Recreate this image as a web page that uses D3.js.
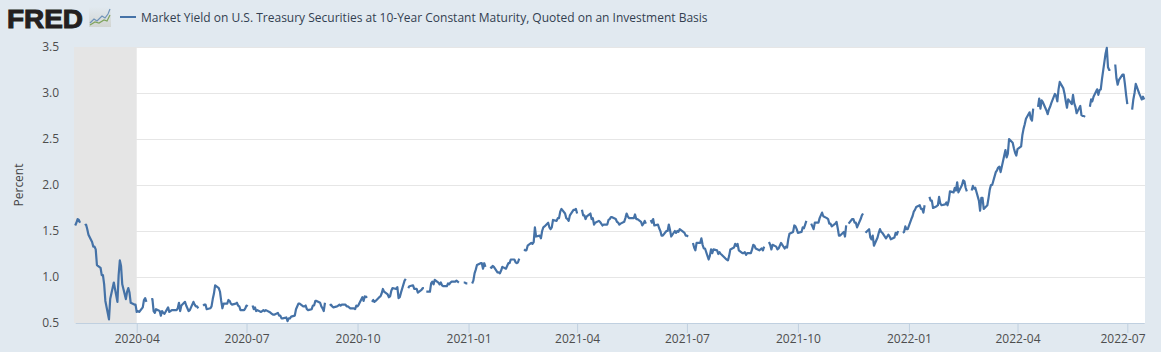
<!DOCTYPE html>
<html>
<head>
<meta charset="utf-8">
<script src="https://d3js.org/d3.v7.min.js"></script>
<style>
  html, body { margin: 0; padding: 0; background: #e1e9f0; overflow: hidden; }
  text { font-family: "Open Sans", sans-serif; }
</style>
</head>
<body>
<div id="chart"></div>
<script>
const seriesName = 'Market Yield on U.S. Treasury Securities at 10-Year Constant Maturity, Quoted on an Investment Basis';
const firstDay = '2020-02-10';
const lastDay = '2022-07-15';
const recession = ['2020-02-01', '2020-04-01'];
const yTicks = [0.5, 1.0, 1.5, 2.0, 2.5, 3.0, 3.5];
const xTicks = ['2020-04-01', '2020-07-01', '2020-10-01', '2021-01-01', '2021-04-01', '2021-07-01', '2021-10-01', '2022-01-01', '2022-04-01', '2022-07-01'];

// una fila per setmana (dl-dv), null = festiu sense dada
const yields2020 = [
  1.56, 1.59, 1.63, 1.62, 1.59,
  null, 1.56, 1.57, 1.52, 1.46,
  1.38, 1.33, 1.33, 1.30, 1.13,
  1.10, 1.02, 1.02, 0.92, 0.74,
  0.54, 0.76, 0.82, 0.88, 0.94,
  0.73, 1.02, 1.18, 1.12, 0.92,
  0.76, 0.84, 0.88, 0.83, 0.72,
  0.70, 0.70, 0.62, 0.63, 0.62,
  0.67, 0.75, 0.77, 0.73, null,
  0.76, 0.76, 0.63, 0.61, 0.65,
  0.63, 0.58, 0.63, 0.61, 0.60,
  0.67, 0.62, 0.63, 0.64, 0.64,
  0.64, 0.66, 0.72, 0.63, 0.69,
  0.73, 0.69, 0.66, 0.63, 0.64,
  0.73, 0.70, 0.68, 0.68, 0.66,
  null, 0.69, 0.70, 0.70, 0.65,
  0.66, 0.68, 0.76, 0.82, 0.91,
  0.88, 0.84, 0.74, 0.66, 0.71,
  0.71, 0.75, 0.74, 0.71, 0.70,
  0.71, 0.72, 0.69, 0.68, 0.64,
  0.64, 0.66, 0.69, 0.68, null,
  0.69, 0.65, 0.67, 0.63, 0.64,
  0.62, 0.63, 0.64, 0.63, 0.64,
  0.62, 0.61, 0.60, 0.59, 0.59,
  0.61, 0.58, 0.58, 0.55, 0.55,
  0.56, 0.52, 0.55, 0.55, 0.57,
  0.58, 0.65, 0.68, 0.71, 0.71,
  0.68, 0.68, 0.69, 0.65, 0.64,
  0.65, 0.69, 0.69, 0.74, 0.74,
  0.72, 0.68, 0.66, 0.63, 0.72,
  null, 0.69, 0.70, 0.68, 0.67,
  0.68, 0.69, 0.70, 0.69, 0.70,
  0.70, 0.68, 0.68, 0.67, 0.66,
  0.66, 0.65, 0.69, 0.68, 0.70,
  0.78, 0.74, 0.79, 0.78, 0.79,
  null, 0.73, 0.75, 0.73, 0.74,
  0.78, 0.79, 0.82, 0.87, 0.84,
  0.81, 0.78, 0.79, 0.85, 0.88,
  0.87, 0.89, 0.77, 0.78, 0.83,
  0.96, 0.98, null, 0.88, 0.90,
  0.91, 0.87, 0.87, 0.87, 0.83,
  0.86, 0.88, 0.88, null, 0.84,
  0.84, 0.93, 0.95, 0.92, 0.97,
  0.94, 0.92, 0.94, 0.91, 0.90,
  0.90, 0.93, 0.92, 0.94, 0.95,
  0.95, 0.96, 0.95, 0.94, null,
  0.94, 0.94, 0.93, 0.93, null
];
const yields2021 = [
  0.93, 0.96, 1.04, 1.08, 1.13,
  1.15, 1.15, 1.09, 1.15, 1.11,
  null, 1.11, 1.10, 1.12, 1.11,
  1.05, 1.05, 1.04, 1.07, 1.11,
  1.09, 1.12, 1.15, 1.15, 1.19,
  1.19, 1.16, 1.15, 1.16, 1.20,
  null, 1.30, 1.29, 1.29, 1.34,
  1.37, 1.36, 1.38, 1.54, 1.44,
  1.45, 1.42, 1.50, 1.54, 1.55,
  1.59, 1.54, 1.52, 1.54, 1.62,
  1.61, 1.64, 1.64, 1.71, 1.74,
  1.69, 1.64, 1.63, 1.61, 1.67,
  1.73, 1.73, 1.74, 1.69, null,
  1.73, 1.67, 1.67, 1.63, 1.66,
  1.69, 1.63, 1.64, 1.57, 1.59,
  1.61, 1.60, 1.58, 1.56, 1.57,
  1.57, 1.62, 1.63, 1.65, 1.65,
  1.63, 1.60, 1.59, 1.57, 1.58,
  1.60, 1.64, 1.69, 1.66, 1.64,
  1.64, 1.64, 1.68, 1.63, 1.63,
  1.60, 1.56, 1.58, 1.61, 1.58,
  null, 1.62, 1.59, 1.63, 1.56,
  1.57, 1.53, 1.50, 1.45, 1.45,
  1.50, 1.50, 1.57, 1.51, 1.44,
  1.50, 1.48, 1.50, 1.49, 1.52,
  1.49, 1.48, 1.45, 1.45, 1.44,
  null, 1.37, 1.32, 1.29, 1.37,
  1.37, 1.42, 1.35, 1.31, 1.31,
  1.19, 1.23, 1.30, 1.26, 1.30,
  1.29, 1.25, 1.27, 1.25, 1.24,
  1.20, 1.19, 1.18, 1.23, 1.30,
  1.32, 1.36, 1.34, 1.36, 1.29,
  1.26, 1.26, 1.27, 1.24, 1.26,
  1.26, 1.30, 1.35, 1.34, 1.31,
  1.29, 1.30, 1.31, 1.29, 1.33,
  null, 1.38, 1.35, 1.30, 1.35,
  1.33, 1.30, 1.31, 1.34, 1.37,
  1.31, 1.33, 1.32, 1.41, 1.47,
  1.49, 1.56, 1.55, 1.52, 1.48,
  1.49, 1.54, 1.53, 1.57, 1.61,
  null, 1.58, 1.55, 1.52, 1.59,
  1.59, 1.64, 1.67, 1.70, 1.66,
  1.64, 1.63, 1.58, 1.58, 1.55,
  1.58, 1.60, 1.53, 1.45, 1.45,
  1.49, 1.44, 1.56, null, 1.58,
  1.63, 1.63, 1.59, 1.59, 1.54,
  1.63, 1.67, 1.69, null, 1.48,
  1.52, 1.43, 1.41, 1.45, 1.34,
  1.43, 1.48, 1.52, 1.49, 1.48,
  1.42, 1.44, 1.46, 1.44, 1.41,
  1.43, 1.48, 1.46, 1.50, null,
  1.48, 1.49, 1.55, 1.52, 1.52
];
const yields2022 = [
  1.63, 1.66, 1.71, 1.73, 1.76,
  1.78, 1.74, 1.74, 1.70, 1.78,
  null, 1.87, 1.83, 1.83, 1.75,
  1.77, 1.78, 1.87, 1.80, 1.78,
  1.79, 1.81, 1.78, 1.83, 1.93,
  1.92, 1.97, 1.94, 2.03, 1.92,
  2.00, 2.05, 2.04, 1.97, 1.93,
  null, 1.94, 1.99, 1.96, 1.97,
  1.83, 1.72, 1.86, 1.86, 1.74,
  1.78, 1.86, 1.95, 2.00, 2.00,
  2.14, 2.16, 2.19, 2.20, 2.14,
  2.32, 2.38, 2.30, 2.34, 2.50,
  2.46, 2.40, 2.35, 2.32, 2.39,
  2.42, 2.54, 2.61, 2.66, 2.72,
  2.79, 2.72, 2.70, 2.83, null,
  2.85, 2.94, 2.83, 2.92, 2.90,
  2.81, 2.77, 2.82, 2.85, 2.89,
  2.99, 2.97, 2.91, 3.04, 3.12,
  3.05, 2.99, 2.91, 2.84, 2.93,
  2.88, 2.98, 2.89, 2.85, 2.78,
  2.86, 2.76, 2.75, 2.75, 2.74,
  null, 2.85, 2.93, 2.91, 2.96,
  3.04, 2.98, 3.03, 3.04, 3.15,
  3.43, 3.49, 3.28, 3.25, 3.25,
  null, 3.31, 3.16, 3.09, 3.14,
  3.20, 3.20, 3.10, 2.98, 2.88,
  null, 2.82, 2.93, 3.00, 3.10,
  2.99, 2.96, 2.93, 2.96, 2.93
];

const parseDay = d3.utcParse('%Y-%m-%d');
const yields = [...yields2020, ...yields2021, ...yields2022];
const weekdays = d3.utcDay.range(parseDay(firstDay), d3.utcDay.offset(parseDay(lastDay), 1))
    .filter(d => d.getUTCDay() > 0 && d.getUTCDay() < 6);
const points = weekdays.map((date, i) => ({ date, value: yields[i] }));

const width = 1161, height = 352;
const margin = { top: 47, right: 16, bottom: 29, left: 74 };
const plotRight = width - margin.right;

const svg = d3.select('#chart').append('svg')
    .attr('width', width)
    .attr('height', height)
    .style('display', 'block');

// El primer i l'últim dia queden una mica dins de l'àrea del gràfic
const x = d3.scaleUtc()
    .domain([parseDay(firstDay), parseDay(lastDay)])
    .range([margin.left + 1.2, plotRight - 0.8]);
const y = d3.scaleLinear()
    .domain([0.5, 3.5])
    .range([height - margin.bottom, margin.top]);

svg.append('rect')
    .attr('x', margin.left)
    .attr('y', margin.top)
    .attr('width', plotRight - margin.left)
    .attr('height', height - margin.top - margin.bottom)
    .attr('fill', '#fff');

// Graella
svg.append('g')
    .selectAll('line')
    .data(yTicks.slice(1))
    .join('line')
    .attr('x1', margin.left)
    .attr('x2', plotRight)
    .attr('y1', d => Math.round(y(d)) + 0.5)
    .attr('y2', d => Math.round(y(d)) + 0.5)
    .attr('stroke', '#e6e6e6');

// Recessió, retallada a l'inici del gràfic
svg.append('rect')
    .attr('x', margin.left)
    .attr('y', margin.top)
    .attr('width', x(parseDay(recession[1])) - margin.left)
    .attr('height', height - margin.top - margin.bottom)
    .attr('fill', '#e5e5e5');

// Eixos
const xAxis = svg.append('g')
    .attr('transform', `translate(0,${height - margin.bottom})`)
    .call(d3.axisBottom(x)
        .tickValues(xTicks.map(parseDay))
        .tickFormat(d3.utcFormat('%Y-%m'))
        .tickSize(10)
        .tickSizeOuter(0)
        .tickPadding(1.5));
xAxis.select('.domain').attr('stroke', '#c0d0e0');
xAxis.selectAll('line').attr('stroke', '#c0d0e0');
xAxis.selectAll('text')
    .attr('font-size', '12px')
    .attr('fill', '#4d4d4d');

// L'última etiqueta s'ajusta per no sortir de l'àrea del gràfic
xAxis.selectAll('.tick:last-of-type text')
    .attr('text-anchor', 'end')
    .attr('x', plotRight - x(parseDay(xTicks[xTicks.length - 1])));

const yAxis = svg.append('g')
    .attr('transform', `translate(${margin.left},0)`)
    .call(d3.axisLeft(y)
        .tickValues(yTicks)
        .tickFormat(d3.format('.1f'))
        .tickSize(0)
        .tickPadding(15));
yAxis.select('.domain').remove();
yAxis.selectAll('text')
    .attr('font-size', '12px')
    .attr('fill', '#4d4d4d');

svg.append('text')
    .attr('transform', 'rotate(-90)')
    .attr('x', -(margin.top + height - margin.bottom) / 2)
    .attr('y', 23)
    .attr('text-anchor', 'middle')
    .attr('font-size', '12px')
    .attr('fill', '#444')
    .text('Percent');

// Sèrie, amb talls als dies sense dada
const line = d3.line()
    .defined(d => d.value !== null)
    .x(d => x(d.date))
    .y(d => y(d.value));

svg.append('path')
    .datum(points)
    .attr('fill', 'none')
    .attr('stroke', '#4572a7')
    .attr('stroke-width', 2.2)
    .attr('stroke-linejoin', 'round')
    .attr('d', line);

// Llegenda
svg.append('line')
    .attr('x1', 120)
    .attr('x2', 136)
    .attr('y1', 17)
    .attr('y2', 17)
    .attr('stroke', '#4572a7')
    .attr('stroke-width', 2);
svg.append('text')
    .attr('x', 141)
    .attr('y', 22)
    .attr('font-size', '12px')
    .attr('fill', '#333f50')
    .text(seriesName);

// Logotip FRED
svg.append('text')
    .attr('x', 7)
    .attr('y', 27.5)
    .attr('textLength', 76)
    .attr('lengthAdjust', 'spacingAndGlyphs')
    .style('font-family', '"Liberation Sans", sans-serif')
    .attr('font-size', '26px')
    .attr('font-weight', 'bold')
    .attr('fill', '#231f20')
    .attr('stroke', '#231f20')
    .attr('stroke-width', 1)
    .text('FRED');

const gradient = svg.append('defs').append('linearGradient')
    .attr('id', 'logo-fade')
    .attr('x1', 0).attr('x2', 0).attr('y1', 0).attr('y2', 1);
gradient.append('stop').attr('offset', 0).attr('stop-color', '#e1e9f0');
gradient.append('stop').attr('offset', 1).attr('stop-color', '#d2d5d2');

const logo = svg.append('g').attr('transform', 'translate(89,7)');
logo.append('rect')
    .attr('width', 22)
    .attr('height', 20)
    .attr('fill', 'url(#logo-fade)');
logo.append('path')
    .attr('d', 'M1 16L5 12L8 14L13 9L16 11L19 7L21 2')
    .attr('fill', 'none')
    .attr('stroke', '#6f93b8')
    .attr('stroke-width', 1.2);
logo.append('path')
    .attr('d', 'M1 18L6 15L10 16L15 13L18 14L21 8')
    .attr('fill', 'none')
    .attr('stroke', '#7fa35c')
    .attr('stroke-width', 1.2);
</script>
</body>
</html>
